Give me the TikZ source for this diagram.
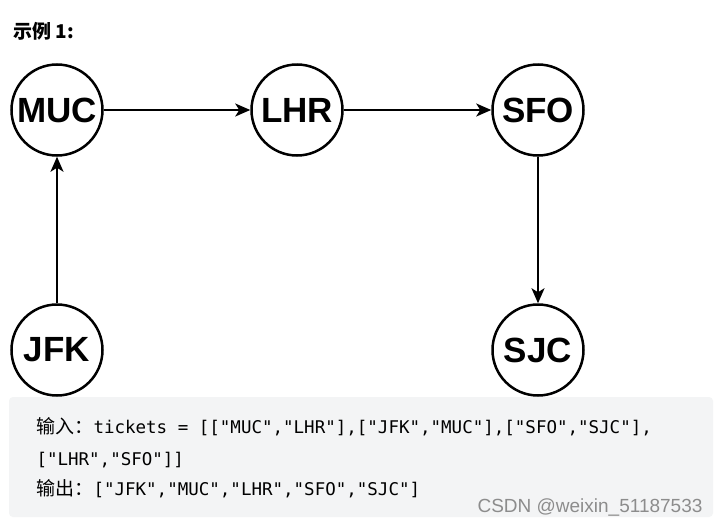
\documentclass[tikz,border=0pt]{standalone}
\usepackage{fontspec}
\setmainfont{Liberation Sans}
\setmonofont{DejaVu Sans Mono}
\newfontfamily\cjk{Noto Sans CJK SC}
\usetikzlibrary{arrows.meta}
\definecolor{boxgray}{HTML}{F3F4F5}
\newcommand*{\citystyle}{\bfseries\fontsize{35}{35}\selectfont}
\newcommand*{\codestyle}{\ttfamily\fontsize{17.5}{17.5}\selectfont}
\newcommand*{\cjkcode}[1]{{\cjk\fontsize{19}{19}\selectfont #1}}

\begin{document}
\begin{tikzpicture}[x=1pt,y=-1pt,
    city/.style={circle, draw=black, line width=2.5pt, minimum size=91pt,
      inner sep=0pt, font=\citystyle},
    flight/.style={line width=2pt, -{Stealth[length=15pt,width=13pt,inset=4pt]}},
    codeline/.style={anchor=base west, font=\codestyle}]
  \useasboundingbox[fill=white] (0,0) rectangle (721,525);
  \node[anchor=base west, font=\cjk\bfseries\fontsize{19}{19}\selectfont]
    (title) at (10,38) {示例 1:};
  % airports
  \node[city] (muc) at (57,110) {MUC};
  \node[city] (lhr) at (297,110) {LHR};
  \node[city] (sfo) at (538,110) {SFO};
  \node[city] (jfk) at (57,350) {JFK};
  \node[city] (sjc) at (538,350) {SJC};
  % itinerary
  \draw[flight] (jfk) -- (muc);
  \draw[flight] (muc) -- (lhr);
  \draw[flight] (lhr) -- (sfo);
  \draw[flight] (sfo) -- (sjc);
  % example box
  \fill[boxgray, rounded corners=4pt] (9,397) rectangle (713,517);
  \node[codeline] (input) at (33,433)
    {\cjkcode{输入：}tickets = [["MUC","LHR"],["JFK","MUC"],["SFO","SJC"],};
  \node[codeline] (input2) at (33,465) {["LHR","SFO"]]};
  \node[codeline] (output) at (33,495)
    {\cjkcode{输出：}["JFK","MUC","LHR","SFO","SJC"]};
  \node[anchor=base east, text=black!45, font=\fontsize{19}{19}\selectfont]
    (mark) at (706,512) {CSDN @weixin\_51187533};
\end{tikzpicture}
\end{document}
